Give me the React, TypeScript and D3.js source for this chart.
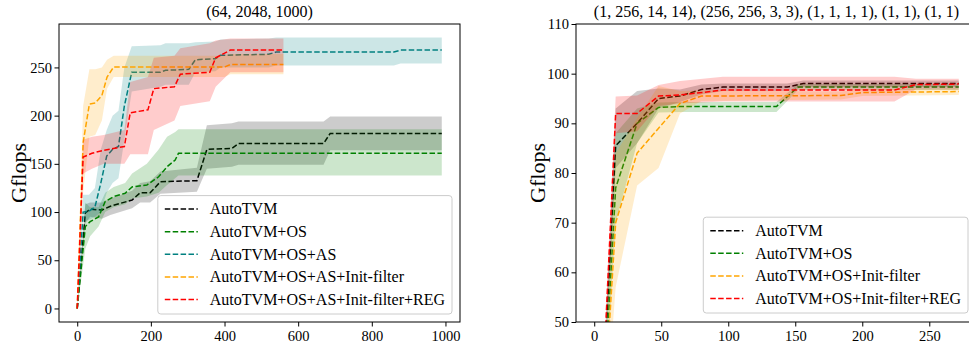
import * as d3 from 'd3'
import { useEffect, useRef } from 'react'

const W = 969
const H = 345
const FONT = '"Liberation Serif", "DejaVu Serif", "Times New Roman", serif'

// rows: [trials, mean, mean - std, mean + std]
const tvmLeft = [
  [0, 0, 0, 0], [22, 99, 88, 108], [35, 103, 95, 110], [67, 102, 93, 110],
  [90, 106, 97, 114], [149, 112.5, 104, 122], [171, 120, 110, 130], [198, 120, 110, 132],
  [226, 131.5, 119, 142], [325, 132.5, 121, 146], [352, 165, 145, 190], [420, 166, 147, 192],
  [438, 171, 149, 194], [669, 171, 149, 194], [687, 181.6, 164, 199], [990, 181.6, 164, 199],
]
const osLeft = [
  [0, 0, 0, 0], [22, 85, 62, 110], [35, 90, 75, 105], [58, 95, 85, 105],
  [76, 111, 100, 120], [99, 116, 105, 126], [130, 119.5, 108, 130], [149, 126, 114, 140],
  [189, 128, 116, 150], [221, 136.6, 120, 165], [244, 147, 128, 178], [266, 154, 135, 183],
  [275, 161, 138, 186], [990, 161, 138, 186],
]
const asLeft = [
  [0, 0, 0, 0], [16, 100, 90, 118], [32, 101, 92, 118], [48, 105, 95, 125],
  [64, 130, 100, 165], [80, 158, 120, 185], [96, 165, 130, 200], [112, 168, 135, 205],
  [128, 210, 175, 250], [148, 245, 225, 272], [226, 245, 230, 273], [240, 247, 232, 275],
  [303, 248, 232, 275], [321, 258, 245, 276], [375, 259, 246, 277], [389, 262.6, 250, 279],
  [520, 263.6, 250, 280], [540, 266, 252, 281], [860, 266, 252, 281], [878, 268, 254, 281],
  [990, 268, 254, 281],
]
const initLeft = [
  [0, 0, 0, 0], [16, 172, 120, 210], [33, 212, 178, 248], [49, 213, 180, 248],
  [67, 221, 195, 250], [81, 240, 228, 258], [99, 250.5, 240, 262], [400, 250.5, 240, 262],
  [416, 253, 243, 264], [560, 253, 243, 264],
]
const regLeft = [
  [0, 0, 0, 0], [16, 157, 140, 175], [40, 161, 145, 178], [72, 164, 150, 180],
  [128, 168, 150, 185], [144, 203, 160, 235], [192, 206, 160, 240], [208, 228, 185, 260],
  [264, 230, 195, 262], [280, 243, 210, 270], [360, 245, 215, 275], [376, 260, 230, 278],
  [416, 268, 245, 280], [560, 268, 245, 280],
]

const tvmRight = [
  [0, 0, 0, 0], [16, 85.5, 81, 93], [32, 90, 86, 96.5], [48, 95, 93, 97],
  [64, 95.5, 94.3, 96.8], [80, 96.8, 95.8, 97.8], [96, 97.3, 96.5, 98], [144, 97.3, 96.5, 98],
  [156, 98, 97.3, 98.6], [272, 98, 97.3, 98.6],
]
const osRight = [
  [0, 0, 0, 0], [16, 77, 70, 88], [32, 90, 86, 93], [48, 93.2, 92.2, 94.2],
  [64, 93.4, 92.3, 94.3], [136, 93.4, 92.3, 94.3], [152, 97.3, 96.7, 97.9], [272, 97.3, 96.7, 97.9],
]
const initRight = [
  [0, 0, 0, 0], [16, 70, 57, 84], [32, 84, 77.5, 91], [48, 89, 81, 97.5],
  [64, 94, 92, 96.5], [80, 95.5, 94.5, 96.6], [184, 95.6, 94.8, 96.4], [200, 96.2, 95.5, 96.9],
  [272, 96.4, 95.7, 97],
]
const regRight = [
  [0, 0, 0, 0], [16, 92, 88, 95.4], [32, 92, 88.4, 95.6], [48, 95.5, 93.5, 97.7],
  [64, 95.7, 94, 98.5], [96, 96.7, 94.4, 99.4], [224, 96.7, 94.4, 99.4], [240, 97.8, 96.8, 99],
  [272, 97.9, 96.8, 99],
]

const leftLabels = [
  'AutoTVM', 'AutoTVM+OS', 'AutoTVM+OS+AS',
  'AutoTVM+OS+AS+Init-filter', 'AutoTVM+OS+AS+Init-filter+REG',
]
const rightLabels = ['AutoTVM', 'AutoTVM+OS', 'AutoTVM+OS+Init-filter', 'AutoTVM+OS+Init-filter+REG']
const leftColors = ['black', 'green', 'teal', 'orange', 'red']
const rightColors = ['black', 'green', 'orange', 'red']

const leftXTicks = [0, 200, 400, 600, 800, 1000]
const leftYTicks = [0, 50, 100, 150, 200, 250]
const rightXTicks = [0, 50, 100, 150, 200, 250]
const rightYTicks = [50, 60, 70, 80, 90, 100, 110]

function drawPanel(svg, p) {
  const all = p.series.flat()
  const xMin = d3.min(all, (d) => d[0])
  const xMax = d3.max(all, (d) => d[0])
  const xPad = (xMax - xMin) * 0.05
  const x = d3.scaleLinear().domain([xMin - xPad, xMax + xPad]).range([p.left, p.right])

  let yd = p.yDomain
  if (!yd) {
    const lo = d3.min(all, (d) => d[2])
    const hi = d3.max(all, (d) => d[3])
    const pad = (hi - lo) * 0.05
    yd = [lo - pad, hi + pad]
  }
  const y = d3.scaleLinear().domain(yd).range([p.bottom, p.top])

  const g = svg.append('g')
  g.append('clipPath')
    .attr('id', p.id)
    .append('rect')
    .attr('x', p.left)
    .attr('y', p.top)
    .attr('width', p.right - p.left)
    .attr('height', p.bottom - p.top)

  const plot = g.append('g').attr('clip-path', 'url(#' + p.id + ')')
  const area = d3.area().x((d) => x(d[0])).y0((d) => y(d[2])).y1((d) => y(d[3]))
  const line = d3.line().x((d) => x(d[0])).y((d) => y(d[1]))

  p.series.forEach((s, i) => {
    plot.append('path').datum(s).attr('d', area).attr('fill', p.colors[i]).attr('fill-opacity', 0.2)
    plot
      .append('path')
      .datum(s)
      .attr('d', line)
      .attr('fill', 'none')
      .attr('stroke', p.colors[i])
      .attr('stroke-width', 1.5)
      .attr('stroke-dasharray', '5.5,2.4')
  })

  const fmt = d3.format('d')
  const xa = g
    .append('g')
    .attr('transform', 'translate(0,' + p.bottom + ')')
    .call(
      d3.axisBottom(x).tickValues(p.xTicks).tickFormat(fmt).tickSize(4.5).tickPadding(4.5).tickSizeOuter(0),
    )
  const ya = g
    .append('g')
    .attr('transform', 'translate(' + p.left + ',0)')
    .call(
      d3.axisLeft(y).tickValues(p.yTicks).tickFormat(fmt).tickSize(4.5).tickPadding(2.5).tickSizeOuter(0),
    )
  ;[xa, ya].forEach((a) => {
    a.attr('font-family', null).attr('font-size', null)
    a.select('.domain').remove()
    a.selectAll('text')
      .attr('fill', '#000')
      .style('font-family', FONT)
      .style('font-size', '14.5px')
    a.selectAll('line').attr('stroke', '#000').attr('stroke-width', 1)
  })

  g.append('rect')
    .attr('x', p.left)
    .attr('y', p.top)
    .attr('width', p.right - p.left)
    .attr('height', p.bottom - p.top)
    .attr('fill', 'none')
    .attr('stroke', '#000')
    .attr('stroke-width', 1)

  g.append('text')
    .attr('x', (p.left + p.right) / 2)
    .attr('y', p.top - 7)
    .attr('text-anchor', 'middle')
    .style('font-family', FONT)
    .style('font-size', '16px')
    .text(p.title)

  g.append('text')
    .attr('transform', 'translate(' + p.ylabelX + ',' + (p.top + p.bottom) / 2 + ') rotate(-90)')
    .attr('text-anchor', 'middle')
    .attr('dy', '0.35em')
    .style('font-family', FONT)
    .style('font-size', '22px')
    .text('Gflops')

  // legend, anchored at its lower-right corner
  const lg = g.append('g')
  const box = lg
    .append('rect')
    .attr('fill', '#fff')
    .attr('fill-opacity', 0.8)
    .attr('stroke', '#cccccc')
    .attr('stroke-width', 1)
    .attr('rx', 3)
  const rowH = 22.6
  const n = p.labels.length
  const boxH = 13.5 + (n - 1) * rowH + 14.5
  const top = p.legendBottom - boxH
  let maxW = 0
  p.labels.forEach((lab, i) => {
    const cy = top + 13.5 + i * rowH
    lg.append('line')
      .attr('class', 'h')
      .attr('y1', cy)
      .attr('y2', cy)
      .attr('stroke', p.colors[i])
      .attr('stroke-width', 1.5)
      .attr('stroke-dasharray', '5.5,2.4')
    const t = lg
      .append('text')
      .attr('y', cy)
      .attr('dy', '0.33em')
      .style('font-family', FONT)
      .style('font-size', '16px')
      .text(lab)
    maxW = Math.max(maxW, t.node().getComputedTextLength())
  })
  const boxW = 7 + 33 + 12 + maxW + 7
  const left = p.legendRight - boxW
  box.attr('x', left).attr('y', top).attr('width', boxW).attr('height', boxH)
  lg.selectAll('line.h').attr('x1', left + 7).attr('x2', left + 40)
  lg.selectAll('text').attr('x', left + 52)
}

const App = () => {
  const ref = useRef(null)

  useEffect(() => {
    const svg = d3.select(ref.current)
    svg.selectAll('*').remove()

    drawPanel(svg, {
      id: 'clipL',
      left: 59,
      right: 460,
      top: 24,
      bottom: 322,
      series: [tvmLeft, osLeft, asLeft, initLeft, regLeft],
      colors: leftColors,
      labels: leftLabels,
      xTicks: leftXTicks,
      yTicks: leftYTicks,
      yDomain: null,
      title: '(64, 2048, 1000)',
      ylabelX: 18,
      legendRight: 452,
      legendBottom: 314,
    })

    drawPanel(svg, {
      id: 'clipR',
      left: 576,
      right: 977,
      top: 24,
      bottom: 322,
      series: [tvmRight, osRight, initRight, regRight],
      colors: rightColors,
      labels: rightLabels,
      xTicks: rightXTicks,
      yTicks: rightYTicks,
      yDomain: [50, 110],
      title: '(1, 256, 14, 14), (256, 256, 3, 3), (1, 1, 1, 1), (1, 1), (1, 1)',
      ylabelX: 537,
      legendRight: 968,
      legendBottom: 313,
    })
  }, [])

  return (
    <svg
      ref={ref}
      width={W}
      height={H}
      style={{ position: 'absolute', left: 0, top: 0, background: '#fff' }}
    />
  )
}

export default App
